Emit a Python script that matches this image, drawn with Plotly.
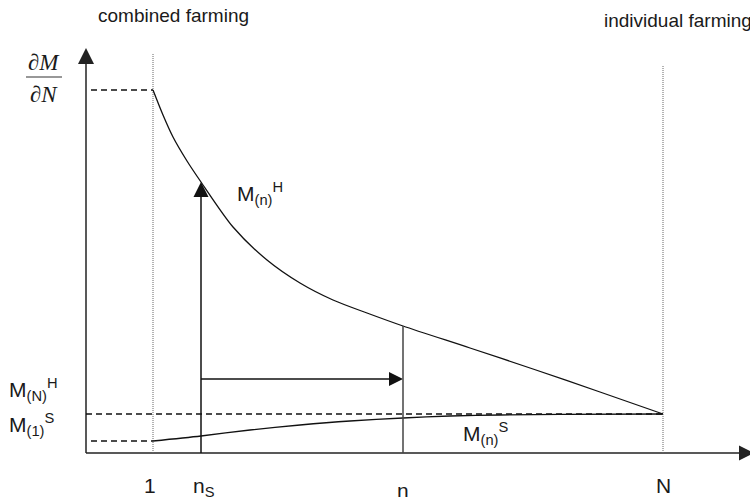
import plotly.graph_objects as go

# ---- data (x: number of farms n, y: marginal value dM/dN) ----
x_axis_end = 668          # tip of the n-axis arrow
y_axis_top = 405          # tip of the dM/dN-axis arrow
n_one = 67                # n = 1
n_s = 115                 # n_S
n_mid = 317               # n
n_N = 577                 # N

H_x = [67, 77, 87, 101, 115, 147, 181, 214, 247, 281, 317, 384, 447, 514, 577]
H_y = [363, 338, 316, 292, 271, 226, 193, 170, 153, 140, 127, 105, 84, 61, 39]

S_x = [67, 115, 164, 214, 264, 317, 364, 414, 474, 577]
S_y = [12, 17, 23, 28, 32, 35, 37, 38, 38.7, 39]

level_M1H = 363           # M_(1)^H (top dashed)
level_MNH = 39            # M_(N)^H
level_M1S = 12            # M_(1)^S
shift_level = 74          # horizontal shift arrow
dotted_top_1 = 399
dotted_top_N = 388

tick_labels = ["1", "n<sub>S</sub>", "n", "N"]
tick_pos = [n_one, n_s, n_mid, n_N]

BLACK = "#111111"
AXIS = "#222222"
SANS = "Liberation Sans, Arial, sans-serif"
SERIF = "Liberation Serif, Times New Roman, serif"

fig = go.Figure()

def line(xs, ys, color=BLACK, width=1.3, dash="solid", shape="linear", smoothing=1):
    fig.add_trace(go.Scatter(x=xs, y=ys, mode="lines",
                             line=dict(color=color, width=width, dash=dash, shape=shape,
                                       smoothing=smoothing),
                             hoverinfo="skip", showlegend=False))

def head(x, y, symbol, size, color=AXIS):
    fig.add_trace(go.Scatter(x=[x], y=[y], mode="markers",
                             marker=dict(symbol=symbol, size=size, color=color,
                                         line=dict(width=0)),
                             hoverinfo="skip", showlegend=False))

# axes
line([0, 0], [0, y_axis_top - 8], color=AXIS, width=1.5)
line([0, x_axis_end - 8], [0, 0], color=AXIS, width=1.5)
head(0, y_axis_top, "arrow-up", 16)
head(x_axis_end, 0, "arrow-right", 15)

# dotted verticals at 1 and N
line([n_one, n_one], [0, dotted_top_1], color="#666666", width=1, dash="1px,1px")
line([n_N, n_N], [0, dotted_top_N], color="#666666", width=1, dash="1px,1px")

# dashed levels
line([5, n_one], [level_M1H, level_M1H], dash="6px,4px", width=1.3)
line([0, n_N], [level_MNH, level_MNH], dash="6px,4px", width=1.3)
line([5, n_one], [level_M1S, level_M1S], dash="6px,4px", width=1.3)

# curves
line(H_x, H_y, shape="spline", width=1.3, smoothing=0.8)
line(S_x, S_y, shape="spline", width=1.3, smoothing=0.8)

# n_S vertical arrow up to the H curve
H_at_ns = H_y[H_x.index(n_s)]
line([n_s, n_s], [0, H_at_ns - 8], width=1.5)
head(n_s, H_at_ns, "arrow-up", 15, color=BLACK)

# horizontal shift arrow from n_S to n
line([n_s, n_mid - 8], [shift_level, shift_level], width=1.5)
head(n_mid, shift_level, "arrow-right", 14, color=BLACK)

# vertical line at n up to the H curve
H_at_n = H_y[H_x.index(n_mid)]
line([n_mid, n_mid], [0, H_at_n], color="#444444", width=1.5)

ann = []
def text(x, y, t, size=21, family=SANS, xanchor="left", style="normal"):
    ann.append(dict(x=x, y=y, xref="x", yref="y", text=t, showarrow=False,
                    xanchor=xanchor, yanchor="middle",
                    font=dict(family=family, size=size, color="#1a1a1a", style=style)))

text(10, 437.7, "combined farming", size=19)
text(516, 432.7, "individual farming", size=19)

# dM/dN fraction label
text(-42, 390.8, "∂M", size=23, family=SERIF, xanchor="center", style="italic")
text(-42, 358.8, "∂N", size=23, family=SERIF, xanchor="center", style="italic")
fig.add_shape(type="line", x0=-60, x1=-24, y0=376, y1=376, xref="x", yref="y",
              line=dict(color="#333333", width=1.2))

text(-79, 63.3, "M<sub>(N)</sub><sup>H</sup>")
text(-79, 28.3, "M<sub>(1)</sub><sup>S</sup>")
text(149, 259.3, "M<sub>(n)</sub><sup>H</sup>")
text(375, 19.3, "M<sub>(n)</sub><sup>S</sup>")

# tick labels under the n-axis
tick_y = [-32.7, -34.3, -37.7, -32.7]
for pos, lab, ty in zip(tick_pos, tick_labels, tick_y):
    if lab.startswith("n<sub>"):
        text(pos - 10, ty, lab)
    else:
        text(pos - 3 if lab == "1" else pos, ty, lab, xanchor="center")

fig.update_layout(
    width=750, height=497, autosize=False,
    margin=dict(l=0, r=0, t=0, b=0),
    paper_bgcolor="white", plot_bgcolor="white",
    xaxis=dict(range=[-86, 664], visible=False, fixedrange=True),
    yaxis=dict(range=[-44, 453], visible=False, fixedrange=True),
    annotations=ann, hovermode=False, showlegend=False,
)

fig.write_html("out.html", config={"displayModeBar": False})
